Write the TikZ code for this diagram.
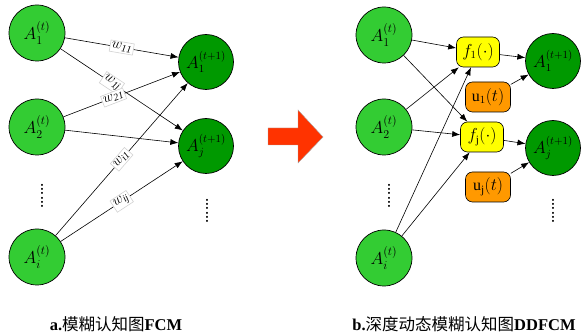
\documentclass[tikz,border=0pt]{standalone}
\usepackage{amsmath}
\usepackage{fontspec}
\setmainfont{Liberation Serif}
\newfontfamily\cjk{Noto Sans CJK SC}
\usetikzlibrary{arrows.meta,positioning}

\definecolor{litegreen}{HTML}{33CC33}
\definecolor{darkgreen}{HTML}{009900}
\definecolor{fyellow}{HTML}{FFFF00}
\definecolor{uorange}{HTML}{FF9900}
\definecolor{bigred}{HTML}{FF3300}

\tikzset{
  src/.style={circle,draw=black,fill=litegreen,line width=0.7pt,minimum size=56pt,inner sep=0pt,font=\fontsize{17}{19}\selectfont},
  dst/.style={circle,draw=black,fill=darkgreen,line width=0.7pt,minimum size=55pt,inner sep=0pt,font=\fontsize{16}{18}\selectfont},
  fbox/.style={rectangle,rounded corners=7pt,draw=black,fill=fyellow,line width=0.6pt,minimum width=43pt,minimum height=30pt,inner sep=1pt,font=\fontsize{16}{18}\selectfont},
  ubox/.style={rectangle,rounded corners=7pt,draw=black,fill=uorange,line width=0.6pt,minimum width=45pt,minimum height=30pt,inner sep=1pt,font=\fontsize{16}{18}\selectfont},
  wlab/.style={sloped,fill=white,draw=gray!35,inner sep=1.5pt,font=\Large},
  edge/.style={-{Latex[length=8pt,width=6pt]},line width=0.6pt},
  vdots/.style={rotate=90,font=\fontsize{17}{19}\selectfont},
  caption/.style={font=\fontsize{16.5}{18}\selectfont}
}

\begin{document}
\begin{tikzpicture}[x=1pt,y=-1pt]
  \useasboundingbox (0,0) rectangle (583,336);

  % a. FCM
  \node[src] (la1) at (37,33) {$A_1^{(t)}$};
  \node[src] (la2) at (37,127) {$A_2^{(t)}$};
  \node[src] (lai) at (37,257) {$A_i^{(t)}$};
  \node[dst] (lb1) at (206,62) {$A_1^{(t+1)}$};
  \node[dst] (lbj) at (206,146) {$A_j^{(t+1)}$};
  \node[vdots] (ldots1) at (42,196) {......};
  \node[vdots] (ldots2) at (207,211) {......};

  \draw[edge] (la1) -- node[wlab] {$w_{\mathit{11}}$} (lb1);
  \draw[edge] (la1) -- node[wlab,pos=0.42] {$w_{\mathit{1j}}$} (lbj);
  \draw[edge] (la2) -- node[wlab,pos=0.43] {$w_{\mathit{21}}$} (lb1);
  \draw[edge] (la2) -- (lbj);
  \draw[edge] (lai) -- node[wlab] {$w_{\mathit{i1}}$} (lb1);
  \draw[edge] (lai) -- node[wlab] {$w_{\mathit{ij}}$} (lbj);

  % big arrow
  \filldraw[fill=bigred,draw=gray!70,line width=0.4pt]
    (268,128) -- (298,128) -- (298,110) -- (323,137) -- (298,163) -- (298,145) -- (268,145) -- cycle;

  % b. DDFCM
  \node[src] (ra1) at (384,35) {$A_1^{(t)}$};
  \node[src] (ra2) at (384,127) {$A_2^{(t)}$};
  \node[src] (rai) at (384,258) {$A_i^{(t)}$};
  \node[fbox] (f1) at (478,52) {$f_1(\cdot)$};
  \node[fbox] (fj) at (482,137) {$f_{\mathrm{j}}(\cdot)$};
  \node[ubox] (u1) at (488,97) {$\mathrm{u}_1(t)$};
  \node[ubox] (uj) at (488,187) {$\mathrm{u}_{\mathrm{j}}(t)$};
  \node[dst] (rb1) at (553,61) {$A_1^{(t+1)}$};
  \node[dst] (rbj) at (553,148) {$A_j^{(t+1)}$};
  \node[vdots] (rdots1) at (389,196) {......};
  \node[vdots] (rdots2) at (553,211) {......};

  \draw[edge] (ra1) -- (f1);
  \draw[edge] (ra1) -- (fj);
  \draw[edge] (ra2) -- (f1);
  \draw[edge] (ra2) -- (fj);
  \draw[edge] (rai) -- (f1);
  \draw[edge] (rai) -- (fj);
  \draw[edge] (f1) -- (rb1);
  \draw[edge] (fj) -- (rbj);
  \draw[edge] (u1) -- (rb1);
  \draw[edge] (uj) -- (rbj);

  % captions
  \node[caption] (capa) at (116,324) {\textbf{a.}{\cjk 模糊认知图}\textbf{FCM}};
  \node[caption] (capb) at (464,324) {\textbf{b.}{\cjk 深度动态模糊认知图}\textbf{DDFCM}};
\end{tikzpicture}
\end{document}
